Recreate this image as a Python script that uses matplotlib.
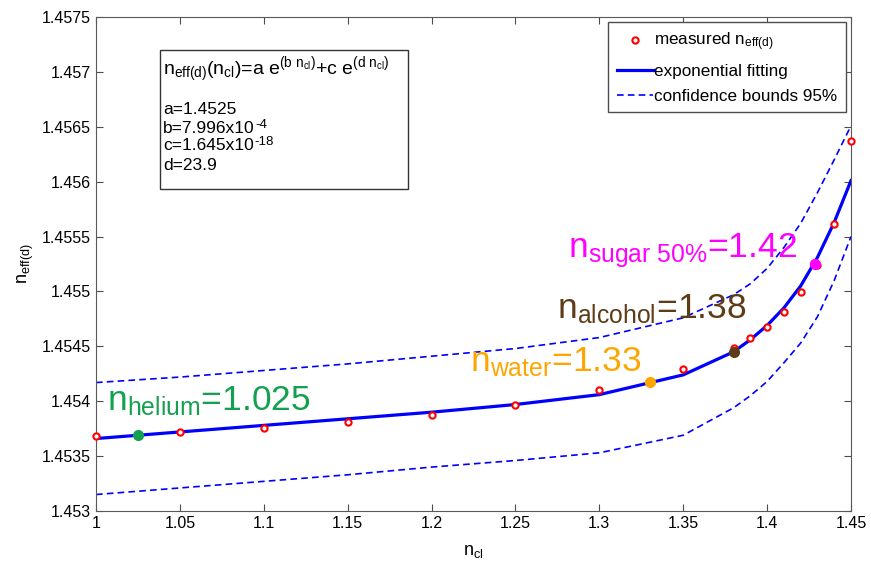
import numpy as np
import matplotlib
matplotlib.use('Agg')
import matplotlib.pyplot as plt
from matplotlib.patches import Rectangle

plt.rcParams['font.family'] = ['Liberation Sans', 'DejaVu Sans']
plt.rcParams['mathtext.fontset'] = 'custom'
plt.rcParams['mathtext.rm'] = 'Liberation Sans'
plt.rcParams['mathtext.it'] = 'Liberation Sans:italic'
plt.rcParams['mathtext.bf'] = 'Liberation Sans:bold'

# measured points
n_cl_meas = [1.00, 1.05, 1.10, 1.15, 1.20, 1.25, 1.30, 1.35, 1.38, 1.39,
             1.40, 1.41, 1.42, 1.428, 1.43, 1.44, 1.45]
n_eff_meas = [1.453683, 1.453720, 1.453756, 1.453811, 1.453874, 1.453966,
              1.454102, 1.454293, 1.454485, 1.454576, 1.454676, 1.454813,
              1.454995, 1.455259, 1.455240, 1.455614, 1.456370]

# fitted curve and 95% bounds
n_cl_fit = [1.00, 1.05, 1.10, 1.15, 1.20, 1.25, 1.30, 1.35, 1.38, 1.39,
            1.40, 1.41, 1.42, 1.43, 1.44, 1.45]
n_eff_fit = [1.45366, 1.45372, 1.45378, 1.45384, 1.45390, 1.45397, 1.45406,
             1.45424, 1.45445, 1.45456, 1.45469, 1.45485, 1.45505, 1.45531,
             1.45563, 1.45601]
upper_bound = [1.45417, 1.45422, 1.45428, 1.45434, 1.45441, 1.45448, 1.45458,
               1.45476, 1.45497, 1.45507, 1.45521, 1.45540, 1.45562, 1.45590,
               1.45620, 1.45651]
lower_bound = [1.45315, 1.45321, 1.45327, 1.45333, 1.45340, 1.45346, 1.45353,
               1.45369, 1.45394, 1.45405, 1.45418, 1.45435, 1.45453, 1.45477,
               1.45510, 1.45550]

# samples marked on the curve
sample_names = ['helium', 'water', 'alcohol', 'sugar 50%']
sample_labels = ['1.025', '1.33', '1.38', '1.42']
sample_x = [1.025, 1.33, 1.38, 1.4285]
sample_y = [1.453692, 1.454175, 1.454448, 1.455250]
sample_colors = ['#13a04f', '#ffa500', '#5e3c17', '#ff00ff']
label_x = [1.0065, 1.2229, 1.2747, 1.2813]
label_y = [1.45392, 1.454275, 1.454758, 1.455314]

x_ticks = [1, 1.05, 1.1, 1.15, 1.2, 1.25, 1.3, 1.35, 1.4, 1.45]
x_tick_labels = ['1', '1.05', '1.1', '1.15', '1.2', '1.25', '1.3', '1.35', '1.4', '1.45']
y_ticks = [1.453, 1.4535, 1.454, 1.4545, 1.455, 1.4555, 1.456, 1.4565, 1.457, 1.4575]
y_tick_labels = ['1.453', '1.4535', '1.454', '1.4545', '1.455', '1.4555',
                 '1.456', '1.4565', '1.457', '1.4575']

fig = plt.figure(figsize=(8.71, 5.68), dpi=100)
ax = fig.add_axes([96 / 871, 57 / 568, 755 / 871, 494 / 568])

h_up, = ax.plot(n_cl_fit, upper_bound, '--', color='blue', lw=1.2, dashes=(4, 2.5),
                label='confidence bounds 95%')
ax.plot(n_cl_fit, lower_bound, '--', color='blue', lw=1.2, dashes=(4, 2.5))
h_fit, = ax.plot(n_cl_fit, n_eff_fit, '-', color='blue', lw=2.3,
                 label='exponential fitting')
h_meas, = ax.plot(n_cl_meas, n_eff_meas, 'o', ms=4.5, mfc='white', mec='red', mew=1.5,
                  clip_on=False, zorder=5, label=r'measured $\mathrm{n_{eff(d)}}$')

for i in range(len(sample_names)):
    ax.plot(sample_x[i], sample_y[i], 'o', ms=7, color=sample_colors[i], zorder=6)
    name = sample_names[i].replace(' ', r'\ ').replace('%', r'\%')
    ax.text(label_x[i], label_y[i],
            r'$\mathrm{n_{' + name + '}}$=' + sample_labels[i],
            color=sample_colors[i], fontsize=25.5, va='baseline', ha='left')

ax.set_xlim(1, 1.45)
ax.set_ylim(1.453, 1.4575)
ax.set_xticks(x_ticks)
ax.set_xticklabels(x_tick_labels)
ax.set_yticks(y_ticks)
ax.set_yticklabels(y_tick_labels)
ax.tick_params(direction='in', length=5, top=True, right=True, labelsize=11.5,
               color='0.3')
for sp in ax.spines.values():
    sp.set_color('0.35')
ax.set_xlabel(r'$\mathrm{n_{cl}}$', fontsize=13, labelpad=9)
ax.set_ylabel(r'$\mathrm{n_{eff(d)}}$', fontsize=13)

# text box with the fit parameters
ax.add_patch(Rectangle((0.0848, 0.652), 0.3285, 0.281, transform=ax.transAxes,
                       facecolor='white', edgecolor='0.2', lw=1, zorder=4))
ax.text(0.0887, 0.8826,
        r'$\mathrm{n_{eff(d)}(n_{cl})}$=a $\mathrm{e^{(b\ n_{cl})}}$+c $\mathrm{e^{(d\ n_{cl})}}$',
        transform=ax.transAxes, fontsize=14, va='baseline', ha='left', zorder=5)
box_lines = ['a=1.4525', 'b=7.996x10', 'c=1.645x10', 'd=23.9']
box_sup = ['', '-4', '-18', '']
box_y = [0.8036, 0.7652, 0.7308, 0.6903]
for t, s, yy in zip(box_lines, box_sup, box_y):
    txt = ax.text(0.0887, yy, t, transform=ax.transAxes, fontsize=12.5,
                  va='baseline', ha='left', zorder=5)
    if s:
        ax.annotate(s, xy=(1, 0), xycoords=txt, xytext=(0.5, 6),
                    textcoords='offset points', fontsize=9.5,
                    va='baseline', ha='left', zorder=5)

leg = ax.legend([h_meas, h_fit, h_up],
                [r'measured $\mathrm{n_{eff(d)}}$', 'exponential fitting',
                 'confidence bounds 95%'],
                loc='upper right', fontsize=12.3, fancybox=False, framealpha=1,
                edgecolor='0.3', handlelength=2.1, handletextpad=0.1,
                labelspacing=0.6, borderaxespad=0.3, borderpad=0.5)
leg.get_frame().set_linewidth(1)

fig.savefig('out.png', dpi=100)
